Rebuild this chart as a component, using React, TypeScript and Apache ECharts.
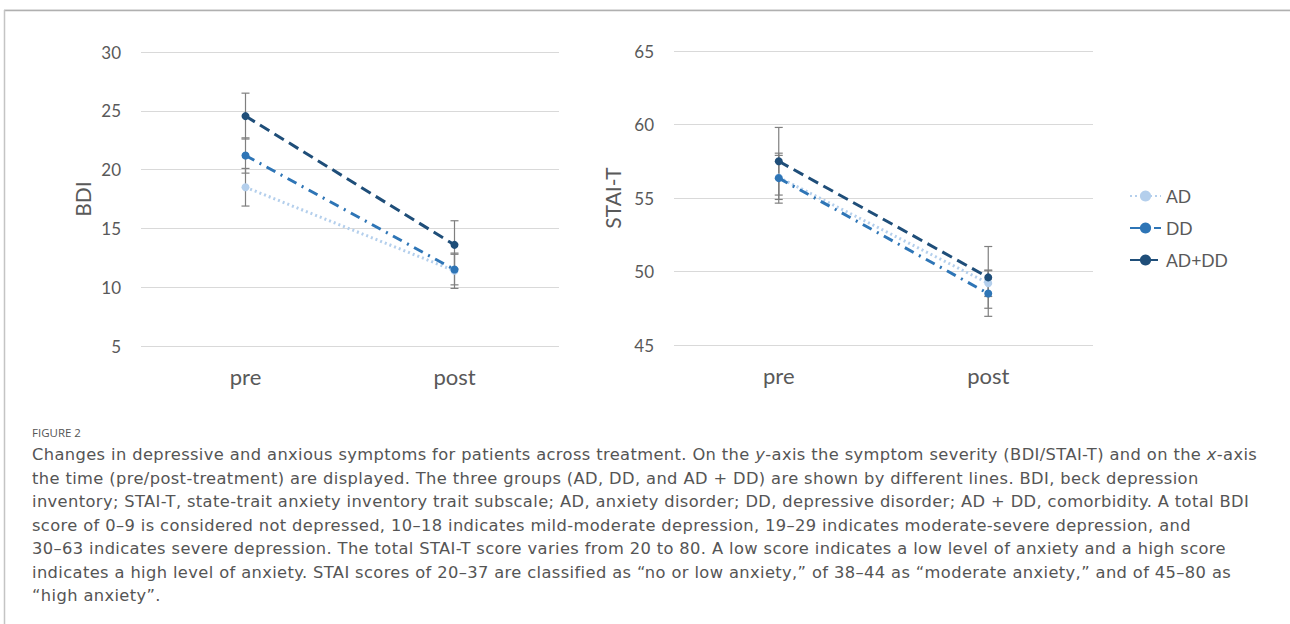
import React, { useEffect, useRef } from "react";
import * as echarts from "echarts";

const categories = ["pre", "post"];
const groups = ["AD", "DD", "AD+DD"];

// BDI means and error half-widths (pre, post)
const bdiAD = [18.5, 11.4];
const bdiDD = [21.2, 11.5];
const bdiADDD = [24.55, 13.6];
const bdiErrAD = [1.6, 1.5];
const bdiErrDD = [1.5, 1.3];
const bdiErrADDD = [1.95, 2.05];

// STAI-T means and error half-widths (pre, post)
const staiAD = [56.4, 49.2];
const staiDD = [56.35, 48.5];
const staiADDD = [57.5, 49.6];
const staiErrAD = [1.5, 0.9];
const staiErrDD = [1.7, 1.55];
const staiErrADDD = [2.3, 2.1];

const bdiAxis = { min: 5, max: 30, interval: 5, name: "BDI" };
const staiAxis = { min: 45, max: 65, interval: 5, name: "STAI-T" };

const captionTitle = "FIGURE 2";
const captionLines: (string | { i: string })[][] = [
  [
    "Changes in depressive and anxious symptoms for patients across treatment. On the ",
    { i: "y" },
    "-axis the symptom severity (BDI/STAI-T) and on the ",
    { i: "x" },
    "-axis",
  ],
  ["the time (pre/post-treatment) are displayed. The three groups (AD, DD, and AD + DD) are shown by different lines. BDI, beck depression"],
  ["inventory; STAI-T, state-trait anxiety inventory trait subscale; AD, anxiety disorder; DD, depressive disorder; AD + DD, comorbidity. A total BDI"],
  ["score of 0–9 is considered not depressed, 10–18 indicates mild-moderate depression, 19–29 indicates moderate-severe depression, and"],
  ["30–63 indicates severe depression. The total STAI-T score varies from 20 to 80. A low score indicates a low level of anxiety and a high score"],
  ["indicates a high level of anxiety. STAI scores of 20–37 are classified as “no or low anxiety,” of 38–44 as “moderate anxiety,” and of 45–80 as"],
  ["“high anxiety”."],
];

const COLORS = { AD: "#b4cfec", DD: "#2e75b6", ADDD: "#1f4e79" };
const CHART_FONT = "Lato";

function errData(means: number[], errs: number[]) {
  return means.map((m, i) => [i, m - errs[i], m + errs[i]]);
}

export default function App() {
  const ref = useRef<HTMLDivElement>(null);
  useEffect(() => {
    if (!ref.current) return;
    const chart = echarts.init(ref.current, undefined, { renderer: "svg" });

    const renderErr = (params: any, api: any) => {
      const x = api.value(0);
      const lo = api.coord([x, api.value(1)]);
      const hi = api.coord([x, api.value(2)]);
      const w = 4;
      const style = { stroke: "#7f7f7f", lineWidth: 1.2, fill: "none" };
      return {
        type: "group",
        children: [
          { type: "line", shape: { x1: lo[0], y1: lo[1], x2: hi[0], y2: hi[1] }, style },
          { type: "line", shape: { x1: lo[0] - w, y1: lo[1], x2: lo[0] + w, y2: lo[1] }, style },
          { type: "line", shape: { x1: hi[0] - w, y1: hi[1], x2: hi[0] + w, y2: hi[1] }, style },
        ],
      };
    };

    const lineSeries = (name: string, data: number[], idx: number, color: string, dash: number[], z: number) => ({
      type: "line",
      name,
      data,
      xAxisIndex: idx,
      yAxisIndex: idx,
      symbol: "circle",
      symbolSize: 8,
      itemStyle: { color },
      lineStyle: { color, width: 3, type: dash, cap: "butt" },
      z,
    });

    const errSeries = (data: number[][], idx: number) => ({
      type: "custom",
      xAxisIndex: idx,
      yAxisIndex: idx,
      renderItem: renderErr,
      data,
      encode: { x: 0, y: [1, 2] },
      z: 1,
      silent: true,
    });

    const yAxisBase = (ax: any, gap: number) => ({
      type: "value",
      min: ax.min,
      max: ax.max,
      interval: ax.interval,
      name: ax.name,
      nameLocation: "middle",
      nameGap: gap,
      nameTextStyle: { fontFamily: CHART_FONT, fontSize: 21, color: "#595959" },
      axisLine: { show: false },
      axisTick: { show: false },
      axisLabel: { fontFamily: CHART_FONT, fontSize: 17, color: "#595959", margin: 20 },
      splitLine: { lineStyle: { color: "#d9d9d9", width: 1 } },
    });

    const xAxisBase = (idx: number) => ({
      type: "category",
      gridIndex: idx,
      data: categories,
      boundaryGap: true,
      axisLine: { show: false },
      axisTick: { show: false },
      axisLabel: { fontFamily: CHART_FONT, fontSize: 22, color: "#595959", margin: 19 },
      splitLine: { show: false },
    });

    chart.setOption({
      animation: false,
      grid: [
        { left: 141, top: 52, width: 418, height: 294 },
        { left: 674, top: 51, width: 419, height: 294 },
      ],
      legend: {
        orient: "vertical",
        left: 1124,
        top: 181,
        data: groups,
        itemWidth: 31,
        itemHeight: 14,
        itemGap: 12,
        textStyle: { fontFamily: CHART_FONT, fontSize: 17.5, color: "#595959", lineHeight: 20 },
      },
      xAxis: [xAxisBase(0), xAxisBase(1)],
      yAxis: [
        { ...yAxisBase(bdiAxis, 48), gridIndex: 0 },
        { ...yAxisBase(staiAxis, 51), gridIndex: 1 },
      ],
      series: [
        errSeries(errData(bdiAD, bdiErrAD), 0),
        errSeries(errData(bdiDD, bdiErrDD), 0),
        errSeries(errData(bdiADDD, bdiErrADDD), 0),
        errSeries(errData(staiAD, staiErrAD), 1),
        errSeries(errData(staiDD, staiErrDD), 1),
        errSeries(errData(staiADDD, staiErrADDD), 1),
        lineSeries("AD", bdiAD, 0, COLORS.AD, [2, 3], 3),
        lineSeries("DD", bdiDD, 0, COLORS.DD, [10, 6, 2, 6], 4),
        lineSeries("AD+DD", bdiADDD, 0, COLORS.ADDD, [11, 6], 5),
        lineSeries("AD", staiAD, 1, COLORS.AD, [2, 3], 3),
        lineSeries("DD", staiDD, 1, COLORS.DD, [10, 6, 2, 6], 4),
        lineSeries("AD+DD", staiADDD, 1, COLORS.ADDD, [11, 6], 5),
      ],
      graphic: [
        { type: "line", shape: { x1: 4, y1: 9.5, x2: 1290, y2: 9.5 }, style: { stroke: "#eeeeee", lineWidth: 1 } },
        { type: "line", shape: { x1: 4, y1: 10.5, x2: 1290, y2: 10.5 }, style: { stroke: "#b0b0b0", lineWidth: 1.5 } },
        { type: "line", shape: { x1: 4.5, y1: 10, x2: 4.5, y2: 624 }, style: { stroke: "#c4c4c4", lineWidth: 1.5 } },
      ],
    });
    return () => chart.dispose();
  }, []);

  return (
    <div style={{ position: "absolute", left: 0, top: 0, width: 1290, height: 624, background: "#fff", overflow: "hidden" }}>
      <div ref={ref} style={{ position: "absolute", left: 0, top: 0, width: 1290, height: 624 }} />
      <div
        style={{
          position: "absolute",
          left: 32,
          top: 424,
          fontFamily: "'Open Sans'",
          fontSize: 11.5,
          lineHeight: "18px",
          color: "#555555",
          whiteSpace: "nowrap",
        }}
      >
        {captionTitle}
      </div>
      <div
        style={{
          position: "absolute",
          left: 32,
          top: 443.25,
          fontFamily: "'DejaVu Sans'",
          fontSize: 16.3,
          letterSpacing: "0.38px",
          lineHeight: "23.5px",
          color: "#555555",
          whiteSpace: "nowrap",
        }}
      >
        {captionLines.map((parts, li) => (
          <div key={li}>
            {parts.map((p, pi) =>
              typeof p === "string" ? <span key={pi}>{p}</span> : <i key={pi}>{p.i}</i>
            )}
          </div>
        ))}
      </div>
    </div>
  );
}
